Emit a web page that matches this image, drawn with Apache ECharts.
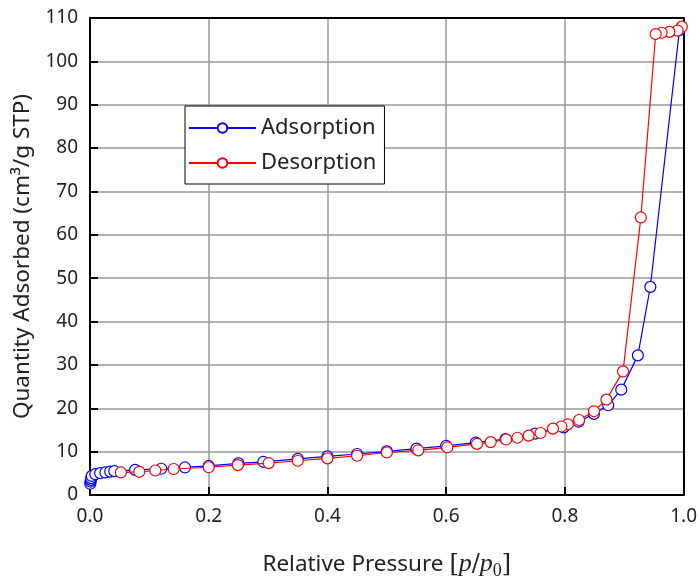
<!DOCTYPE html>
<html>
<head>
<meta charset="utf-8">
<script src="https://cdn.jsdelivr.net/npm/echarts@6/dist/echarts.min.js"></script>
<style>html,body{margin:0;padding:0;background:#fff}#c{width:700px;height:585px}</style>
</head>
<body>
<div id="c"></div>
<script>
const adsP = [0.0005, 0.001, 0.0015, 0.002, 0.003, 0.009, 0.017, 0.026, 0.034, 0.041, 0.076, 0.12, 0.16, 0.2, 0.25, 0.292, 0.35, 0.4, 0.45, 0.5, 0.55, 0.6, 0.65, 0.7, 0.75, 0.798, 0.823, 0.849, 0.873, 0.895, 0.923, 0.944, 0.993];
const adsQ = [2.6, 3.1, 3.5, 3.9, 4.4, 4.8, 5.05, 5.2, 5.4, 5.5, 5.8, 6.05, 6.35, 6.7, 7.3, 7.66, 8.35, 8.9, 9.45, 10.05, 10.7, 11.35, 12.1, 12.9, 14.15, 15.6, 16.9, 18.7, 20.7, 24.3, 32.2, 48.0, 107.2];
const desP = [0.997, 0.990, 0.976, 0.963, 0.953, 0.928, 0.898, 0.870, 0.849, 0.824, 0.805, 0.794, 0.780, 0.759, 0.739, 0.720, 0.701, 0.675, 0.652, 0.602, 0.553, 0.500, 0.450, 0.400, 0.350, 0.301, 0.249, 0.200, 0.141, 0.110, 0.083, 0.052];
const desQ = [108.0, 107.1, 106.8, 106.6, 106.3, 64.0, 28.5, 22.0, 19.3, 17.3, 16.3, 15.8, 15.3, 14.3, 13.7, 13.2, 12.8, 12.2, 11.8, 11.0, 10.3, 9.8, 9.05, 8.45, 7.9, 7.36, 6.9, 6.4, 6.0, 5.65, 5.35, 5.2];
const xTicks = [0, 0.2, 0.4, 0.6, 0.8, 1.0];
const yTicks = [0, 10, 20, 30, 40, 50, 60, 70, 80, 90, 100, 110];

const ads = adsP.map((p, i) => [p, adsQ[i]]);
const des = desP.map((p, i) => [p, desQ[i]]);
const FONT = '"Noto Sans", sans-serif';

const chart = echarts.init(document.getElementById('c'));
chart.setOption({
  animation: false,
  backgroundColor: '#fff',
  grid: { left: 90, right: 15, top: 18, bottom: 89 },
  legend: {
    left: 185, top: 106, orient: 'vertical',
    backgroundColor: '#fff', borderColor: '#000', borderWidth: 1,
    padding: [11, 8, 10, 3], itemGap: 13,
    itemWidth: 67, itemHeight: 12,
    textStyle: { fontFamily: FONT, fontSize: 22, color: '#222', lineHeight: 22 },
    data: ['Adsorption', 'Desorption']
  },
  xAxis: [{
    type: 'value', min: xTicks[0], max: xTicks[xTicks.length - 1], interval: 0.2,
    axisLine: { show: true, lineStyle: { color: '#000', width: 2 } },
    axisTick: { show: true, inside: true, length: 8, lineStyle: { color: '#000', width: 2 } },
    axisLabel: { fontFamily: FONT, fontSize: 19, color: '#222', margin: 12, formatter: v => v.toFixed(1) },
    splitLine: { show: true, lineStyle: { color: '#999', width: 1.5 } },
    name: '{a|Relative Pressure }{b|[}{i|p}{b|/}{i|p}{s|0}{b|]}',
    nameLocation: 'middle', nameGap: 54,
    nameTextStyle: {
      rich: {
        a: { fontFamily: FONT, fontSize: 22.5, color: '#222' },
        b: { fontFamily: '"DejaVu Serif", "Liberation Serif", serif', fontSize: 24, color: '#222' },
        i: { fontFamily: '"Liberation Serif", serif', fontStyle: 'italic', fontSize: 26, color: '#222' },
        s: { fontFamily: '"Liberation Serif", serif', fontSize: 18, color: '#222', padding: [13, 0, 0, 0] }
      }
    }
  }, {
    type: 'value', position: 'top', min: 0, max: 1,
    axisLine: { show: true, onZero: false, lineStyle: { color: '#000', width: 2 } },
    axisTick: { show: false }, axisLabel: { show: false }, splitLine: { show: false }
  }],
  yAxis: [{
    type: 'value', min: yTicks[0], max: yTicks[yTicks.length - 1], interval: 10,
    axisLine: { show: true, lineStyle: { color: '#000', width: 2 } },
    axisTick: { show: true, inside: true, length: 8, lineStyle: { color: '#000', width: 2 } },
    axisLabel: { fontFamily: FONT, fontSize: 19, color: '#222', margin: 12 },
    splitLine: { show: true, lineStyle: { color: '#999', width: 1.5 } },
    name: 'Quantity Adsorbed (cm³/g STP)',
    nameLocation: 'middle', nameGap: 56,
    nameTextStyle: { fontFamily: FONT, fontSize: 22.5, color: '#222' }
  }, {
    type: 'value', position: 'right', min: 0, max: 110,
    axisLine: { show: true, onZero: false, lineStyle: { color: '#000', width: 2 } },
    axisTick: { show: false }, axisLabel: { show: false }, splitLine: { show: false }
  }],
  series: [{
    name: 'Adsorption', type: 'line', data: ads,
    symbol: 'circle', symbolSize: 11, showAllSymbol: true,
    lineStyle: { color: '#0000ff', width: 1.2 },
    itemStyle: { color: '#fff', borderColor: '#0000ff', borderWidth: 1.2 },
    z: 2
  }, {
    name: 'Desorption', type: 'line', data: des,
    symbol: 'circle', symbolSize: 11, showAllSymbol: true,
    lineStyle: { color: '#ff0000', width: 1.2 },
    itemStyle: { color: '#fff', borderColor: '#ff0000', borderWidth: 1.2 },
    z: 3
  }]
});
</script>
</body>
</html>
